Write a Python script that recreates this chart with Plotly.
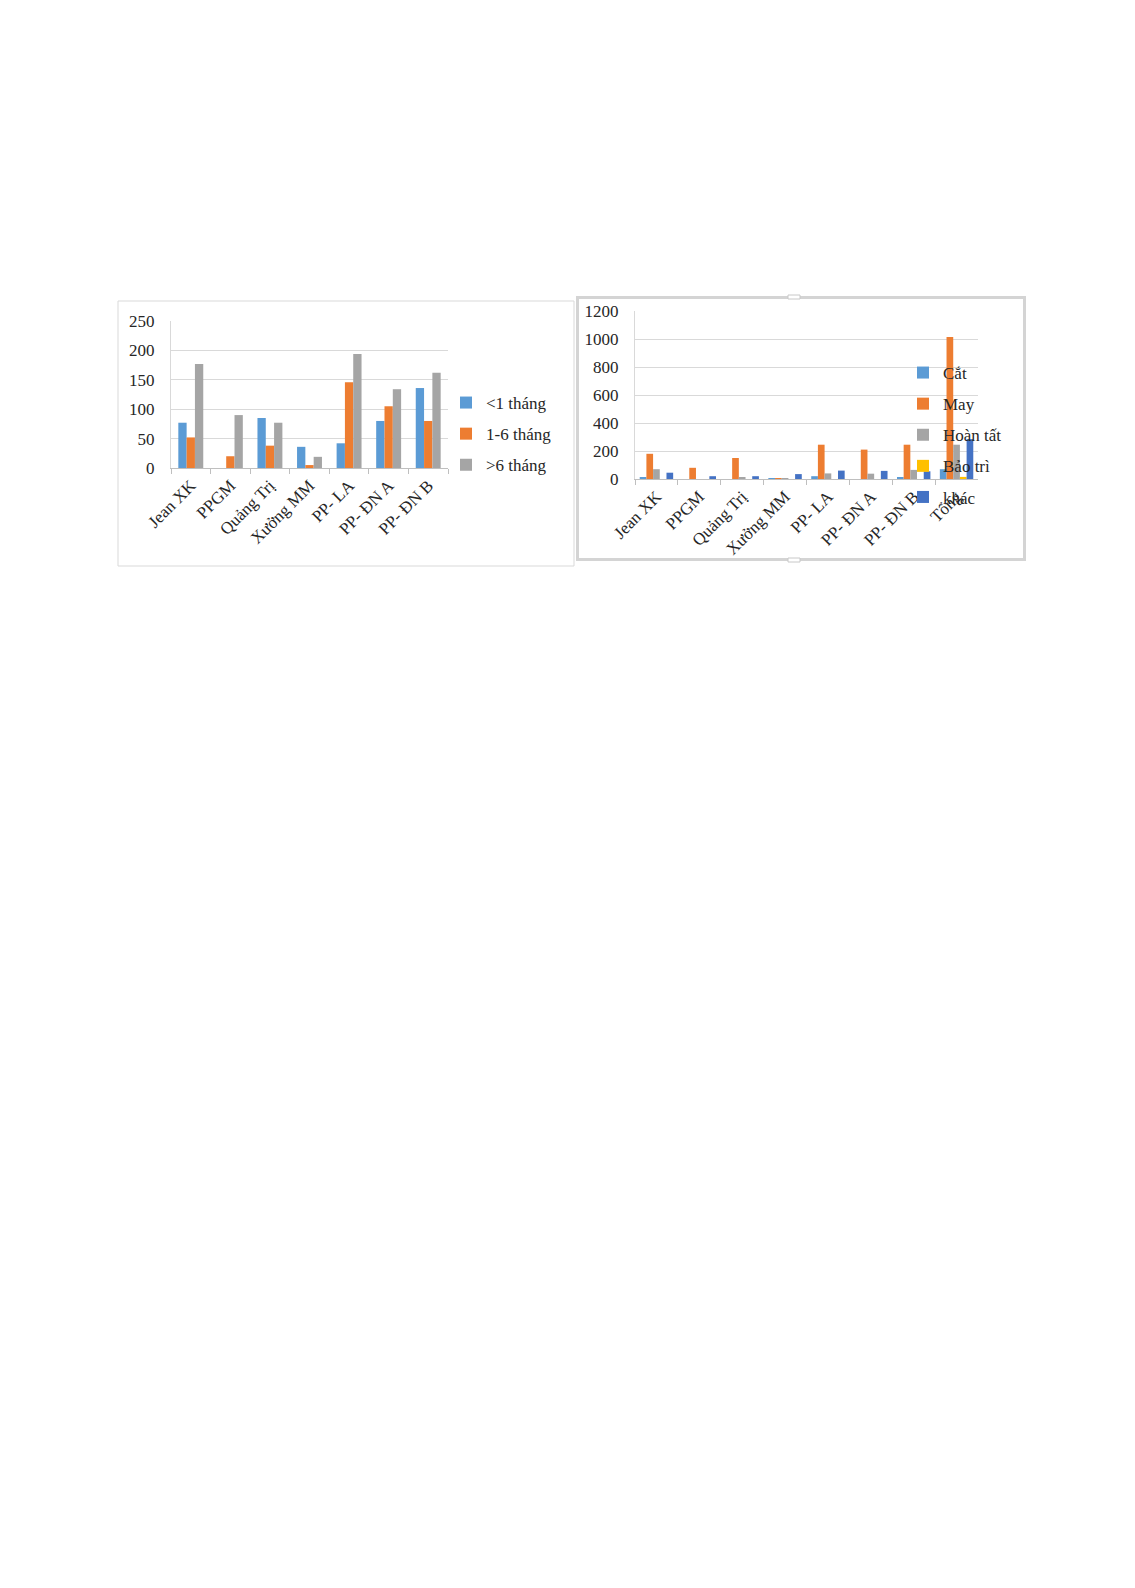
import plotly.graph_objects as go

# ---------------- data ----------------
cats_left = ["Jean XK", "PPGM", "Quảng Trị", "Xưởng MM", "PP- LA", "PP- ĐN A", "PP- ĐN B"]
lt1 = [77, 0, 85, 36, 42, 80, 136]
m1_6 = [52, 20, 38, 5, 146, 105, 80]
gt6 = [177, 90, 77, 19, 194, 134, 162]
left_names = ["<1 tháng", "1-6 tháng", ">6 tháng"]
left_ticks = [0, 50, 100, 150, 200, 250]

cats_right = ["Jean XK", "PPGM", "Quảng Trị", "Xưởng MM", "PP- LA", "PP- ĐN A", "PP- ĐN B", "Tổng"]
cat_ = [10, 0, 0, 5, 20, 0, 8, 70]
may = [180, 80, 150, 5, 245, 210, 245, 1015]
hoan_tat = [70, 0, 8, 5, 40, 38, 65, 245]
bao_tri = [0, 0, 0, 0, 0, 0, 0, 15]
khac = [45, 20, 20, 35, 60, 58, 55, 285]
right_names = ["Cắt", "May", "Hoàn tất", "Bảo trì", "khác"]
right_ticks = [0, 200, 400, 600, 800, 1000, 1200]

colors_left = ["#5B9BD5", "#ED7D31", "#A5A5A5"]
colors_right = ["#5B9BD5", "#ED7D31", "#A5A5A5", "#FFC000", "#4472C4"]

W, H = 1135, 1588
FONT = "Liberation Serif"
TXT = "#262626"
FS = 17


def px(x):
    return x / W


def py(y):
    return 1 - y / H


fig = go.Figure()

# left chart bars
wl = 0.21
for i, (name, vals) in enumerate(zip(left_names, [lt1, m1_6, gt6])):
    fig.add_trace(go.Bar(
        x=cats_left, y=vals, name=name, marker_color=colors_left[i],
        width=wl, offset=-1.5 * wl + i * wl,
        xaxis="x", yaxis="y", legend="legend", legendgroup=name,
        marker_line_width=0,
    ))

# right chart bars
wr = 0.156
for i, (name, vals) in enumerate(zip(right_names, [cat_, may, hoan_tat, bao_tri, khac])):
    fig.add_trace(go.Bar(
        x=cats_right, y=vals, name=name, marker_color=colors_right[i],
        width=wr, offset=-2.5 * wr + i * wr,
        xaxis="x2", yaxis="y2", legend="legend2", legendgroup=name,
        marker_line_width=0,
    ))

axis_font = dict(family=FONT, size=FS, color=TXT)

common_x = dict(
    type="category", showgrid=False, showline=True, linecolor="#BFBFBF",
    linewidth=1, ticks="outside", tickson="boundaries", ticklen=5,
    tickcolor="#BFBFBF", tickangle=-45, tickfont=axis_font, zeroline=False,
    automargin=False,
)
common_y = dict(
    showgrid=True, gridcolor="#D9D9D9", gridwidth=1, showline=True,
    linecolor="#D9D9D9", zeroline=False, tickfont=axis_font, ticks="",
    ticklabelstandoff=12, automargin=False,
)

fig.update_layout(
    width=W, height=H, autosize=False,
    margin=dict(l=0, r=0, t=0, b=0, autoexpand=False),
    paper_bgcolor="white", plot_bgcolor="white",
    barmode="overlay",
    font=dict(family=FONT, size=FS, color=TXT),
    xaxis=dict(domain=[px(163), px(440)], anchor="y", **common_x),
    yaxis=dict(domain=[py(460), py(313)], anchor="x", range=[0, 250],
               tickvals=left_ticks, **common_y),
    xaxis2=dict(domain=[px(627), px(970)], anchor="y2", **common_x),
    yaxis2=dict(domain=[py(471), py(303)], anchor="x2", range=[0, 1200],
                tickvals=right_ticks, **common_y),
    legend=dict(x=px(438), y=py(377), xanchor="left", yanchor="top",
                bgcolor="rgba(0,0,0,0)", font=dict(family=FONT, size=FS, color=TXT),
                tracegroupgap=6, itemwidth=30),
    legend2=dict(x=px(895), y=py(347), xanchor="left", yanchor="top",
                 bgcolor="rgba(0,0,0,0)", font=dict(family=FONT, size=FS, color=TXT),
                 tracegroupgap=6, itemwidth=30),
    shapes=[
        # left chart frame
        dict(type="rect", xref="paper", yref="paper",
             x0=px(110), x1=px(566), y0=py(558), y1=py(293),
             line=dict(color="#D9D9D9", width=1), layer="below"),
        # right chart frame (selected look)
        dict(type="rect", xref="paper", yref="paper",
             x0=px(569.5), x1=px(1016.5), y0=py(551.5), y1=py(289.5),
             line=dict(color="#D4D4D4", width=3), layer="below"),
        dict(type="rect", xref="paper", yref="paper",
             x0=px(780), x1=px(792), y0=py(291), y1=py(287),
             line=dict(color="#C8C8C8", width=1), fillcolor="white"),
        dict(type="rect", xref="paper", yref="paper",
             x0=px(780), x1=px(792), y0=py(554), y1=py(550),
             line=dict(color="#C8C8C8", width=1), fillcolor="white"),
    ],
)

fig.write_html("out.html")
